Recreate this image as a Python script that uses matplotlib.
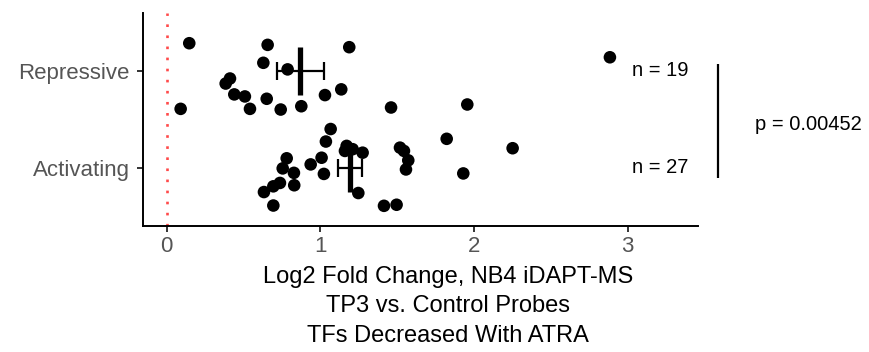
import numpy as np
import matplotlib
matplotlib.use("Agg")
import matplotlib.pyplot as plt

plt.rcParams['font.family'] = ['Liberation Sans', 'DejaVu Sans']

categories = ["Activating", "Repressive"]

repressive_lfc = [0.147, 0.657, 1.188, 0.629, 0.787, 0.412, 0.384, 0.440, 0.509, 0.651,
                  1.030, 1.136, 0.091, 0.542, 0.742, 0.876, 1.460, 1.956, 2.884]
repressive_jitter = [0.285, 0.268, 0.244, 0.083, 0.015, -0.079, -0.131, -0.243, -0.264, -0.288,
                     -0.250, -0.191, -0.392, -0.392, -0.399, -0.365, -0.378, -0.347, 0.140]

activating_lfc = [1.067, 1.036, 1.008, 0.937, 1.023, 0.781, 0.755, 0.828, 0.830, 0.737,
                  0.694, 0.633, 0.694, 1.171, 1.160, 1.210, 1.275, 1.247, 1.414, 1.496,
                  1.518, 1.544, 1.572, 1.557, 1.822, 1.930, 2.251]
activating_jitter = [0.400, 0.271, 0.104, 0.035, -0.063, 0.098, -0.006, -0.052, -0.180, -0.156,
                     -0.191, -0.250, -0.389, 0.226, 0.174, 0.192, 0.156, -0.260, -0.392, -0.381,
                     0.208, 0.174, 0.077, -0.017, 0.299, -0.058, 0.202]

x_ticks = [0, 1, 2, 3]
n_labels = ["n = 27", "n = 19"]
p_label = "p = 0.00452"
xlabel = "Log2 Fold Change, NB4 iDAPT-MS\nTP3 vs. Control Probes\nTFs Decreased With ATRA"

fig = plt.figure(figsize=(8.69, 3.52), dpi=100)
ax = fig.add_axes([0.1642, 0.358, 0.639, 0.606])

groups = [activating_lfc, repressive_lfc]
jitters = [activating_jitter, repressive_jitter]

ax.axvline(0, color='#ff4a4a', lw=1.9, linestyle=(0, (1, 3.2)), zorder=1)

for i, (vals, jit) in enumerate(zip(groups, jitters)):
    pos = i + 1
    v = np.array(vals)
    ax.scatter(v, pos + np.array(jit), s=82, color='black', edgecolors='none', zorder=3)
    m = v.mean()
    se = v.std(ddof=1) / np.sqrt(len(v))
    ax.plot([m, m], [pos - 0.25, pos + 0.25], color='black', lw=3.8, solid_capstyle='butt', zorder=4)
    ax.errorbar([m], [pos], xerr=[se], fmt='none', ecolor='black', elinewidth=1.6,
                capsize=6.5, capthick=1.6, zorder=4)
    ax.text(3.025, pos, n_labels[i], ha='left', va='center', fontsize=14.5, color='black')

ax.set_xlim(-0.156, 3.457)
ax.set_ylim(0.4, 2.6)
ax.set_yticks([1, 2])
ax.set_yticklabels(categories)
ax.set_xticks(x_ticks)
ax.set_xticklabels([str(t) for t in x_ticks])

for s in ['top', 'right']:
    ax.spines[s].set_visible(False)
for s in ['left', 'bottom']:
    ax.spines[s].set_linewidth(1.4)
    ax.spines[s].set_color('black')

ax.tick_params(axis='both', length=4.5, width=1.4, color='#333333', labelcolor='#555555',
               labelsize=16)
ax.tick_params(axis='x', pad=3)
ax.tick_params(axis='y', pad=5)

ax.set_xlabel(xlabel, fontsize=17, color='black', linespacing=1.44, labelpad=6, x=0.55)

# significance bracket
ax.plot([3.585, 3.585], [0.896, 2.07], color='black', lw=1.6, clip_on=False,
        solid_capstyle='butt')
ax.text(3.828, 1.45, p_label, ha='left', va='center', fontsize=14.5, color='black',
        clip_on=False)

fig.savefig("out.png", dpi=100)
